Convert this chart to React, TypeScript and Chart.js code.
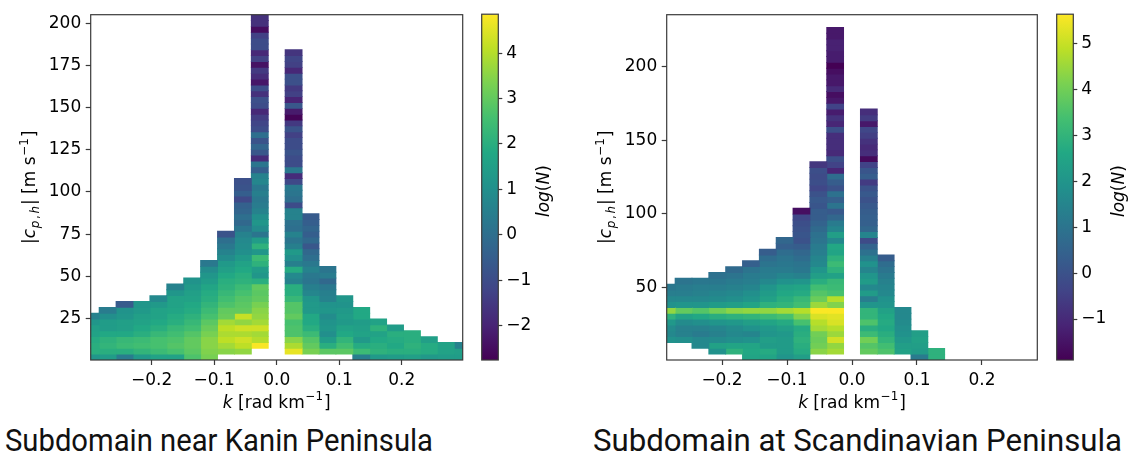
import React, { useEffect, useRef } from 'react';
import { Chart, registerables } from 'chart.js';

Chart.register(...registerables);

// ---------------- DATA ----------------
// wavenumber bin index (bin centre = index * dk); index 0 holds no data
const kBinIndex = [-11, -10, -9, -8, -7, -6, -5, -4, -3, -2, -1, 0, 1, 2, 3, 4, 5, 6, 7, 8, 9, 10, 11];

// Subdomain near Kanin Peninsula
const kaninDk = 0.02705;          // k bin width [rad/km]
const kaninC0 = 0.36;             // lowest |c| bin edge [m/s]
const kaninDc = 3.47;             // |c| bin height [m/s]
const kaninCTop = 205.09;         // highest |c| bin edge
const kaninXTicks = [-0.2, -0.1, 0.0, 0.1, 0.2];
const kaninYTicks = [25, 50, 75, 100, 125, 150, 175, 200];
const kaninLogNRange = [-2.76, 4.86];
const kaninLogNTicks = [-2, -1, 0, 1, 2, 3, 4];
// log(N) per |c| bin, from the lowest bin upward, one list per k bin
const kaninLogN: (number | null)[][] = [
  [1.2, 2.0, 2.0, 1.9, 1.6, 1.5, 1.2, 0.6],
  [1.4, 2.0, 2.2, 2.1, 1.8, 1.4, 1.4, 1.0, 0.4],
  [0.4, 2.0, 2.4, 2.3, 1.8, 1.5, 1.5, 1.2, 1.1, -0.6],
  [1.3, 2.2, 2.5, 2.4, 2.0, 1.8, 1.6, 1.5, 1.3, 1.2],
  [1.6, 2.4, 2.6, 2.6, 2.3, 2.0, 1.8, 1.6, 1.6, 1.3, 0.8],
  [1.6, 2.6, 2.8, 2.7, 2.5, 2.3, 2.0, 1.9, 1.7, 1.6, 1.6, 1.2, 0.6],
  [2.7, 2.9, 3.0, 3.0, 2.8, 2.5, 2.3, 2.1, 1.9, 1.8, 1.6, 1.5, 1.3, 1.1],
  [3.3, 3.4, 3.5, 3.5, 3.3, 3.1, 2.9, 2.6, 2.4, 2.2, 2.0, 1.9, 1.7, 1.4, 1.2, 0.9, 0.3],
  [null, 3.5, 3.8, 4.1, 3.9, 4.1, 3.8, 3.1, 3.0, 2.7, 2.5, 2.3, 2.1, 2.0, 1.8, 1.5, 1.3, 0.9, 0.6, 0.3, 0.0, -0.8],
  [null, 3.6, 4.1, 4.3, 3.9, 4.3, 3.6, 4.2, 3.0, 2.9, 2.8, 2.6, 2.4, 2.1, 2.0, 1.8, 1.6, 1.3, 1.0, 0.9, 0.8, 0.6, 0.2, -0.2, 0.0, -0.3, -0.4, -1.1, -0.5, -0.8, -0.9],
  [null, null, 4.8, 4.0, 3.8, 4.3, 3.8, 3.6, 3.5, 3.3, 3.0, 2.9, 3.0, 2.0, 1.2, 1.4, 2.1, 2.4, 1.2, 2.1,
    1.4, 0.2, 0.9, 1.2, 1.0, 0.6, 0.4, 0.3, 0.5, 0.3, 0.7, 0.6, -0.5, 0.2, -1.8, -0.7, -0.3, -0.8, 0.0, -1.0,
    -1.2, -1.4, -1.9, -1.0, -0.9, -1.7, -1.0, -2.3, -1.8, -1.5, -2.4, -1.3, -1.9, -1.0, -1.0, -1.3, -2.5, -1.7, -1.7],
  [],
  [null, 4.6, 3.9, 3.5, 2.7, 2.7, 2.6, 3.0, 2.8, 2.8, 2.3, 2.0, 2.0, 0.6, 0.8, 1.9, 0.5, 1.0, 1.3, 0.5,
    0.2, 0.6, 0.0, 0.1, 0.6, 0.6, -1.0, 0.0, 0.2, 0.3, -1.1, -1.8, 0.3, -1.0, -1.0, -0.8, -1.0, -1.0, -1.3, -0.8,
    -1.5, -2.7, -2.2, -0.7, -2.0, -1.3, -1.5, -0.9, -0.9, -1.9, -1.3, -1.2, -1.6],
  [null, 3.3, 3.0, 2.8, 2.4, 2.0, 1.8, 1.8, 1.3, 1.3, 1.2, 0.7, 0.5, 0.2, 0.3, 0.6, 0.3, 0.0, -0.2, -0.7, -0.2, -0.5, -0.3, -0.5, -0.6],
  [null, 2.9, 2.0, 1.4, 1.0, 1.2, 1.1, 0.9, 1.2, 1.1, 0.6, 0.5, 0.3, -0.2, 0.4, 0.2],
  [null, 2.9, 2.5, 2.2, 1.8, 1.6, 1.3, 1.4, 1.3, 1.1, 1.2],
  [0.5, 2.4, 1.9, 1.3, 1.6, 1.5, 1.4, 1.8, 1.8],
  [1.3, 2.1, 2.0, 1.8, 1.6, 2.1, 1.6],
  [1.4, 2.0, 1.8, 1.9, 2.0, 1.4],
  [1.5, 2.0, 2.1, 2.0, 2.0],
  [1.3, 1.9, 1.9, 1.5],
  [1.4, 1.6, 1.6],
  [1.4, 1.5, 0.6],
];

// Subdomain at Scandinavian Peninsula
const scandDk = 0.02592;
const scandC0 = 0.82;
const scandDc = 3.961;
const scandCTop = 235.2;
const scandXTicks = [-0.2, -0.1, 0.0, 0.1, 0.2];
const scandYTicks = [50, 100, 150, 200];
const scandLogNRange = [-1.89, 5.63];
const scandLogNTicks = [-1, 0, 1, 2, 3, 4, 5];
const scandLogN: (number | null)[][] = [
  [null, null, null, 1.9, 1.6, 1.7, 2.1, 2.9, 4.4, 1.9, 1.6, 1.3, 1.1],
  [null, null, null, 1.8, 1.4, 1.4, 1.7, 2.4, 3.8, 2.0, 1.6, 1.3, 1.2, 1.0],
  [null, null, 1.6, 1.6, 1.2, 1.4, 1.8, 2.6, 3.6, 2.0, 1.6, 1.4, 1.3, 1.1],
  [null, 1.9, 2.4, 1.7, 1.4, 1.5, 2.0, 2.8, 4.0, 2.2, 1.7, 1.5, 1.3, 1.1, 0.9],
  [null, 2.9, 2.5, 1.8, 1.6, 1.7, 2.1, 2.9, 4.3, 2.3, 1.8, 1.6, 1.4, 1.2, 1.0, 0.7],
  [2.5, 2.6, 2.5, 1.9, 1.5, 1.9, 2.3, 3.0, 4.4, 2.5, 2.0, 1.8, 1.5, 1.3, 1.2, 1.0, 0.4],
  [2.5, 2.7, 2.2, 2.3, 2.0, 2.1, 2.5, 3.2, 4.4, 2.9, 2.4, 2.2, 2.0, 1.6, 1.3, 1.2, 1.0, 0.8, 0.3],
  [2.0, 2.2, 2.2, 2.2, 2.1, 2.3, 2.7, 3.4, 4.6, 3.0, 2.8, 2.6, 2.4, 1.9, 1.5, 1.2, 1.1, 1.0, 0.8, 0.4, 0.6],
  [2.3, 2.7, 2.8, 2.9, 2.8, 2.7, 3.4, 4.2, 4.8, 3.3, 3.1, 2.7, 2.5, 2.0, 1.4, 1.1, 1.0, 0.8, 0.6, 0.3, 0.0, 0.1, 0.0, -0.1, -0.3, -1.6],
  [null, 4.3, 4.0, 3.9, 4.0, 4.6, 4.8, 5.2, 5.6, 4.5, 3.9, 3.6, 3.3, 2.8, 2.3, 2.0, 1.6, 1.5, 1.3, 1.2, 1.0, 0.9, 0.7, 0.5, 0.3, 0.3, 0.1, 0.2, 0.0, -0.3, -0.1, -0.2, -0.1, -0.7],
  [null, 4.6, 4.4, 5.1, 4.5, 4.8, 5.2, 5.3, 5.6, 4.2, 4.8, 3.4, 3.2, 3.1, 2.4, 2.9, 3.2, 2.9, 2.5, 2.6,
    1.6, 2.3, 1.5, 1.2, 0.6, 0.2, 1.0, 0.4, 0.9, 0.0, 0.3, 0.8, -1.1, -0.4, -0.1, -1.0, -0.9, -0.9, -0.9, -0.1,
    -1.1, -0.8, -1.3, -0.4, -1.4, -1.6, -1.0, -1.4, -1.4, -1.6, -1.9, -1.3, -1.3, -1.2, -1.2, -1.4, -1.4],
  [],
  [null, 3.8, 3.6, 4.0, 3.2, 2.8, 3.5, 3.0, 3.0, 2.0, 1.3, 2.2, 1.6, 2.2, 2.0, 1.5, 1.9, 1.4, 0.9, 0.5,
    -0.2, 1.5, 0.6, 0.4, 0.4, 0.3, 0.2, 0.0, 0.2, 0.0, -0.6, 0.3, 0.1, -0.4, -1.7, -0.9, -1.0, -0.8, -0.5, -0.3,
    -1.4, -0.6, -0.9],
  [null, 3.5, 3.3, 3.0, 2.8, 2.6, 2.7, 2.6, 2.4, 2.0, 1.9, 1.6, 1.5, 1.4, 1.2, 1.0, 0.8, 0.3],
  [null, 2.4, 2.3, 2.1, 1.9, 1.8, 1.7, 1.6, 1.6],
  [1.2, 2.2, 2.3, 2.4, 2.3],
  [2.9, 2.9],
  [], [], [], [], [], [],
];

const captions = ['Subdomain near Kanin Peninsula', 'Subdomain at Scandinavian Peninsula'];

// ---------------- STYLE HELPERS ----------------
const VIRIDIS = ['#440154', '#482475', '#414487', '#355f8d', '#2a788e', '#21918c', '#22a884', '#44bf70', '#7ad151', '#bddf26', '#fde725'];
const VIR_RGB = VIRIDIS.map((h) => [parseInt(h.slice(1, 3), 16), parseInt(h.slice(3, 5), 16), parseInt(h.slice(5, 7), 16)]);
function viridis(t: number): string {
  const tt = Math.max(0, Math.min(1, t));
  const x = tt * 10;
  let i = Math.floor(x);
  if (i >= 10) i = 9;
  const f = x - i;
  const a = VIR_RGB[i];
  const b = VIR_RGB[i + 1];
  return `rgb(${Math.round(a[0] + (b[0] - a[0]) * f)},${Math.round(a[1] + (b[1] - a[1]) * f)},${Math.round(a[2] + (b[2] - a[2]) * f)})`;
}

const FAM = '"DejaVu Sans"';
const FS = 17;
const TXT = '#000';
const LINE = '#3a3a3a';
const fmtSigned = (v: number, d: number) => (v < 0 ? '\u2212' : '') + Math.abs(v).toFixed(d);

type Seg = { t: string; it?: boolean; sub?: boolean; sup?: boolean };
function drawRich(ctx: CanvasRenderingContext2D, segs: Seg[], x: number, y: number, size: number, rot: boolean) {
  const font = (s: Seg) => `${s.it ? 'italic ' : ''}${s.sub || s.sup ? size * 0.7 : size}px ${FAM}`;
  ctx.save();
  ctx.translate(x, y);
  if (rot) ctx.rotate(-Math.PI / 2);
  ctx.fillStyle = TXT;
  ctx.textBaseline = 'alphabetic';
  ctx.textAlign = 'left';
  let total = 0;
  const ws = segs.map((s) => {
    ctx.font = font(s);
    const w = ctx.measureText(s.t).width + (s.sub || s.sup ? size * 0.1 : 0);
    total += w;
    return w;
  });
  let cx = -total / 2;
  segs.forEach((s, i) => {
    ctx.font = font(s);
    const dy = s.sup ? -size * 0.42 : s.sub ? size * 0.24 : 0;
    ctx.fillText(s.t, cx + (s.sub || s.sup ? size * 0.05 : 0), dy);
    cx += ws[i];
  });
  ctx.restore();
}

const xTitle: Seg[] = [{ t: 'k', it: true }, { t: ' [rad km' }, { t: '\u22121', sup: true }, { t: ']' }];
const yTitle: Seg[] = [{ t: '|' }, { t: 'c', it: true }, { t: 'p', sub: true, it: true }, { t: ',', sub: true }, { t: 'h', sub: true, it: true }, { t: '| [m s' }, { t: '\u22121', sup: true }, { t: ']' }];
const cbTitle: Seg[] = [{ t: 'log', it: true }, { t: '(' }, { t: 'N', it: true }, { t: ')' }];

type PanelSpec = {
  left: number; width: number; areaLeft: number; padRight: number;
  dk: number; c0: number; dc: number; cTop: number;
  xTicks: number[]; yTicks: number[]; logN: (number | null)[][]; range: number[];
};

function HeatPanel({ spec }: { spec: PanelSpec }) {
  const ref = useRef<HTMLCanvasElement>(null);
  useEffect(() => {
    const [cMin, cMax] = spec.range;
    const datasets: any[] = [];
    kBinIndex.forEach((n, j) => {
      const col = spec.logN[j] || [];
      const data: any[] = [];
      col.forEach((v, i) => {
        if (v === null || v === undefined) return;
        data.push({ x: n * spec.dk, y: [spec.c0 + i * spec.dc, spec.c0 + (i + 1) * spec.dc], v });
      });
      if (!data.length) return;
      datasets.push({
        data,
        backgroundColor: (ctx: any) => (ctx.raw ? viridis((ctx.raw.v - cMin) / (cMax - cMin)) : 'rgba(0,0,0,0)'),
        borderWidth: 0,
        grouped: false,
        barPercentage: 1,
        categoryPercentage: 1,
        inflateAmount: 0.45,
        clip: 0,
      });
    });
    const decor = {
      id: 'decor',
      afterDatasetsDraw(chart: any) {
        const { ctx, chartArea: a } = chart;
        ctx.save();
        ctx.strokeStyle = LINE;
        ctx.lineWidth = 1.2;
        ctx.strokeRect(a.left, a.top, a.right - a.left, a.bottom - a.top);
        ctx.restore();
      },
      afterDraw(chart: any) {
        const { ctx, chartArea: a } = chart;
        drawRich(ctx, xTitle, (a.left + a.right) / 2, 407.5, FS, false);
        drawRich(ctx, yTitle, a.left - 56, (a.top + a.bottom) / 2, FS, true);
      },
    };
    const chart = new Chart(ref.current as HTMLCanvasElement, {
      type: 'bar',
      data: { datasets },
      options: {
        responsive: false,
        animation: false,
        devicePixelRatio: 1,
        layout: { autoPadding: false, padding: { left: 0, right: spec.padRight, top: 8, bottom: 0 } },
        plugins: { legend: { display: false }, tooltip: { enabled: false } },
        scales: {
          x: {
            type: 'linear',
            min: -11 * spec.dk,
            max: 11 * spec.dk,
            offset: false,
            afterBuildTicks: (s: any) => { s.ticks = spec.xTicks.map((v) => ({ value: v })); },
            afterFit: (s: any) => { s.height = 55; },
            ticks: { font: { family: FAM, size: FS }, color: TXT, padding: 5, maxRotation: 0, autoSkip: false, callback: (v: any) => fmtSigned(Number(v), 1) },
            grid: { offset: false, drawOnChartArea: false, drawTicks: true, tickLength: 5, tickWidth: 1.2, tickColor: LINE },
            border: { display: false },
          },
          y: {
            type: 'linear',
            min: spec.c0,
            max: spec.cTop,
            afterBuildTicks: (s: any) => { s.ticks = spec.yTicks.map((v) => ({ value: v })); },
            afterFit: (s: any) => { s.width = spec.areaLeft; },
            ticks: { font: { family: FAM, size: FS }, color: TXT, padding: 4.5, autoSkip: false, callback: (v: any) => String(v) },
            grid: { drawOnChartArea: false, drawTicks: true, tickLength: 5, tickWidth: 1.2, tickColor: LINE },
            border: { display: false },
          },
        },
      } as any,
      plugins: [decor],
    } as any);
    return () => chart.destroy();
  }, [spec]);
  return (
    <canvas
      ref={ref}
      width={spec.width}
      height={415}
      style={{ position: 'absolute', left: spec.left, top: 0, width: spec.width, height: 415 }}
    />
  );
}

type CbarSpec = { left: number; width: number; range: number[]; ticks: number[] };

function ColorBar({ spec }: { spec: CbarSpec }) {
  const ref = useRef<HTMLCanvasElement>(null);
  useEffect(() => {
    const [cMin, cMax] = spec.range;
    const barLeft = 11.7;
    const barRight = 28.3;
    const decor = {
      id: 'cbdecor',
      afterDatasetsDraw(chart: any) {
        const { ctx, chartArea: a } = chart;
        ctx.save();
        ctx.strokeStyle = LINE;
        ctx.lineWidth = 1.2;
        ctx.strokeRect(a.left, a.top, a.right - a.left, a.bottom - a.top);
        ctx.restore();
      },
      afterDraw(chart: any) {
        const { ctx, chartArea: a } = chart;
        drawRich(ctx, cbTitle, a.right + 51, (a.top + a.bottom) / 2 + 4, FS, true);
      },
    };
    const chart = new Chart(ref.current as HTMLCanvasElement, {
      type: 'bar',
      data: {
        labels: [''],
        datasets: [{
          data: [[cMin, cMax]],
          backgroundColor: (ctx: any) => {
            const ch = ctx.chart;
            const ys = ch.scales && ch.scales.y;
            if (!ch.chartArea || !ys) return VIRIDIS[5];
            const g = ch.ctx.createLinearGradient(0, ys.getPixelForValue(cMin), 0, ys.getPixelForValue(cMax));
            VIRIDIS.forEach((c, i) => g.addColorStop(i / 10, c));
            return g;
          },
          borderWidth: 0,
          barPercentage: 1,
          categoryPercentage: 1,
          inflateAmount: 0,
        }],
      },
      options: {
        responsive: false,
        animation: false,
        devicePixelRatio: 1,
        layout: { autoPadding: false, padding: { left: barLeft, right: 0, top: 8, bottom: 20 } },
        plugins: { legend: { display: false }, tooltip: { enabled: false } },
        scales: {
          x: { display: false },
          y: {
            position: 'right',
            min: cMin,
            max: cMax,
            afterBuildTicks: (s: any) => { s.ticks = spec.ticks.map((v) => ({ value: v })); },
            afterFit: (s: any) => { s.width = spec.width - barRight; },
            ticks: { font: { family: FAM, size: FS }, color: TXT, padding: 4, autoSkip: false, callback: (v: any) => fmtSigned(Number(v), 0) },
            grid: { drawOnChartArea: false, drawTicks: true, tickLength: 4, tickWidth: 1.2, tickColor: LINE },
            border: { display: false },
          },
        },
      } as any,
      plugins: [decor],
    } as any);
    return () => chart.destroy();
  }, [spec]);
  return (
    <canvas
      ref={ref}
      width={spec.width}
      height={380}
      style={{ position: 'absolute', left: spec.left, top: 0, width: spec.width, height: 380 }}
    />
  );
}

const kaninPanel: PanelSpec = {
  left: 0, width: 470, areaLeft: 90.7, padRight: 7.3,
  dk: kaninDk, c0: kaninC0, dc: kaninDc, cTop: kaninCTop,
  xTicks: kaninXTicks, yTicks: kaninYTicks, logN: kaninLogN, range: kaninLogNRange,
};
const scandPanel: PanelSpec = {
  left: 575, width: 470, areaLeft: 91.7, padRight: 7.7,
  dk: scandDk, c0: scandC0, dc: scandDc, cTop: scandCTop,
  xTicks: scandXTicks, yTicks: scandYTicks, logN: scandLogN, range: scandLogNRange,
};
const kaninCbar: CbarSpec = { left: 470, width: 110, range: kaninLogNRange, ticks: kaninLogNTicks };
const scandCbar: CbarSpec = { left: 1045, width: 91, range: scandLogNRange, ticks: scandLogNTicks };

export default function App() {
  return (
    <div style={{ position: 'fixed', left: 0, top: 0, width: 1136, height: 455, background: '#fff', overflow: 'hidden' }}>
      <svg width={1136} height={455} style={{ position: 'absolute', left: 0, top: 0 }}>
        <text x={5} y={451} fontFamily="Roboto" fontSize={32} fill="#111" textLength={428} lengthAdjust="spacingAndGlyphs">{captions[0]}</text>
        <text x={593} y={451} fontFamily="Roboto" fontSize={32} fill="#111" textLength={529} lengthAdjust="spacingAndGlyphs">{captions[1]}</text>
      </svg>
      <HeatPanel spec={kaninPanel} />
      <ColorBar spec={kaninCbar} />
      <HeatPanel spec={scandPanel} />
      <ColorBar spec={scandCbar} />
    </div>
  );
}
